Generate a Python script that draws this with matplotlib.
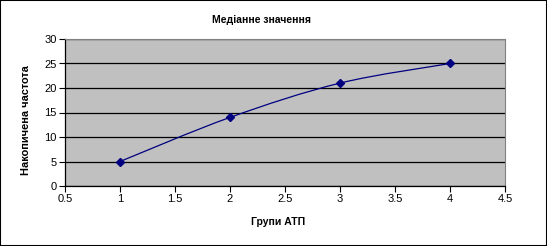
import matplotlib
matplotlib.use("Agg")
import matplotlib.pyplot as plt
from matplotlib.path import Path
from matplotlib.patches import PathPatch
import numpy as np

x_vals = [1, 2, 3, 4]
y_vals = [5, 14, 21, 25]
title = "Медіанне значення"
xlabel = "Групи АТП"
ylabel = "Накопичена частота"
xticks = [0.5, 1, 1.5, 2, 2.5, 3, 3.5, 4, 4.5]
yticks = [0, 5, 10, 15, 20, 25, 30]

plt.rcParams['font.family'] = ['Liberation Sans', 'DejaVu Sans']

fig = plt.figure(figsize=(5.47, 2.46), dpi=100)
fig.patch.set_facecolor('white')
ax = fig.add_axes([65/547, 1-186/246, 440/547, 147/246])
ax.set_facecolor('#c0c0c0')
ax.set_xlim(0.5, 4.5)
ax.set_ylim(0, 30)
ax.set_xticks(xticks)
ax.set_xticklabels([("%g" % t) for t in xticks])
ax.set_yticks(yticks)
ax.tick_params(direction='out', length=4, width=0.8, labelsize=8, colors='black', pad=2)
ax.yaxis.grid(True, color='black', linewidth=0.9)
ax.set_axisbelow(True)
for s in ['top', 'right']:
    ax.spines[s].set_color('#808080')
    ax.spines[s].set_linewidth(0.8)
for s in ['left', 'bottom']:
    ax.spines[s].set_color('black')
    ax.spines[s].set_linewidth(0.9)

# Smoothed line (Bezier through data points, Excel-like)
xs = np.array(x_vals, float)
ys = np.array(y_vals, float)
n = len(xs)
verts = [(xs[0], ys[0])]
codes = [Path.MOVETO]
t = 1/6
for i in range(n-1):
    p0 = np.array([xs[max(i-1, 0)], ys[max(i-1, 0)]])
    p1 = np.array([xs[i], ys[i]])
    p2 = np.array([xs[i+1], ys[i+1]])
    p3 = np.array([xs[min(i+2, n-1)], ys[min(i+2, n-1)]])
    c1 = p1 + (p2 - p0) * t
    c2 = p2 - (p3 - p1) * t
    verts += [tuple(c1), tuple(c2), tuple(p2)]
    codes += [Path.CURVE4]*3
patch = PathPatch(Path(verts, codes), facecolor='none', edgecolor='#000080', linewidth=0.9, transform=ax.transData, zorder=3)
ax.add_patch(patch)
ax.plot(x_vals, y_vals, linestyle='none', marker='D', markersize=4.3, color='#000080', zorder=4)

fig.text(261/547, 1-20/246, title, fontsize=7.5, fontweight='bold', ha='center', va='center')
fig.text(278/547, 1-222/246, xlabel, fontsize=7.5, fontweight='bold', ha='center', va='center')
fig.text(26/547, 1-120/246, ylabel, fontsize=7.9, fontweight='bold', ha='center', va='center', rotation=90)

# figure border
fig.patches.append(plt.Rectangle((0, 0), 1, 1, transform=fig.transFigure, fill=False, edgecolor='black', linewidth=1.5))

fig.savefig('out.png', dpi=100)
